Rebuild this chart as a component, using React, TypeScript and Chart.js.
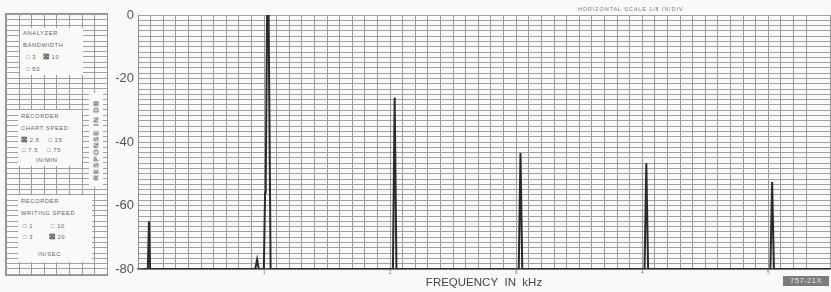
import React, { useEffect, useRef } from "react";
import { Chart, registerables } from "chart.js";

Chart.register(...registerables);

// Recorded spectrum trace (frequency in kHz, response in dB)
const freqKHz = [
  0.04, 0.078, 0.087, 0.096,
  0.93, 0.945, 0.958,
  0.998, 1.008, 1.013, 1.024, 1.036, 1.052,
  2.022, 2.036, 2.05,
  3.02, 3.034, 3.048,
  4.018, 4.032, 4.046,
  5.016, 5.03, 5.044,
  5.49,
];
const responseDb = [
  -80, -80, -65, -80,
  -80, -77, -80,
  -80, -56, -54, 0, 0, -80,
  -80, -26, -80,
  -80, -43.5, -80,
  -80, -46.7, -80,
  -80, -52.6, -80,
  -80,
];

const xMin = 0;
const xMax = 5.489;
const xGridStep = 0.1;
const xTickLabels = [1, 2, 3, 4, 5];
const yMin = -80;
const yMax = 0;
const yLabelStep = 20;
const paperRows = 48;

const panelText = {
  bandwidth: ["ANALYZER", "BANDWIDTH"],
  chart: ["RECORDER", "CHART SPEED"],
  writing: ["RECORDER", "WRITING SPEED"],
};

const smallText: React.CSSProperties = {
  position: "absolute",
  fontFamily: "'Liberation Sans', Arial, sans-serif",
  fontSize: "5.8px",
  letterSpacing: "0.6px",
  color: "#666",
  whiteSpace: "nowrap",
  lineHeight: "6px",
};

const gridBg =
  "repeating-linear-gradient(to bottom, #a0a0a0 0px, #a0a0a0 1px, transparent 1px, transparent 5.3px)," +
  "repeating-linear-gradient(to right, #9a9a9a 0px, #9a9a9a 1px, transparent 1px, transparent 12.6px)";

function T({ x, y, children, style }: { x: number; y: number; children: React.ReactNode; style?: React.CSSProperties }) {
  return <div style={{ ...smallText, left: x, top: y, ...style }}>{children}</div>;
}

export default function App() {
  const ref = useRef<HTMLCanvasElement | null>(null);

  useEffect(() => {
    if (!ref.current) return;
    const chart = new Chart(ref.current, {
      type: "line",
      data: {
        datasets: [
          {
            data: freqKHz.map((f, i) => ({ x: f, y: responseDb[i] })),
            borderColor: "#2b2b2b",
            borderWidth: 2,
            pointRadius: 0,
            tension: 0,
            fill: false,
          },
        ],
      },
      options: {
        animation: false,
        responsive: false,
        events: [],
        layout: { padding: { left: 0, right: 0, top: 15, bottom: 0 } },
        plugins: { legend: { display: false }, tooltip: { enabled: false } },
        scales: {
          x: {
            type: "linear",
            min: xMin,
            max: xMax,
            ticks: {
              stepSize: xGridStep,
              autoSkip: false,
              maxRotation: 0,
              padding: 1,
              font: { size: 5, family: "'Liberation Sans', Arial, sans-serif" },
              color: "#777",
              callback: (v: any) => {
                const n = Number(v);
                const r = Math.round(n);
                return Math.abs(n - r) < 1e-6 && xTickLabels.includes(r) ? String(r) : "";
              },
            },
            grid: { color: "#9a9a9a", lineWidth: 1, drawTicks: false },
            border: { color: "#555", width: 1.5 },
            title: {
              display: true,
              text: "FREQUENCY  IN  kHz",
              color: "#444",
              font: { size: 11.5, family: "'Liberation Sans', Arial, sans-serif" },
              padding: { top: 0, bottom: 2 },
            },
            afterFit: (s: any) => {
              s.height = 23;
            },
          },
          y: {
            type: "linear",
            position: "left",
            min: yMin,
            max: yMax,
            ticks: {
              stepSize: yLabelStep,
              padding: 4,
              color: "#555",
              font: { size: 13, family: "'Liberation Sans', Arial, sans-serif" },
            },
            grid: { display: false, drawTicks: false },
            border: { color: "#8a8a8a", width: 1 },
            afterFit: (s: any) => {
              s.width = 138;
            },
          },
          yg: {
            type: "linear",
            position: "right",
            min: 0,
            max: paperRows,
            ticks: { display: false, stepSize: 1 },
            grid: { color: "#a0a0a0", lineWidth: 1, drawTicks: false },
            border: { display: false },
            afterFit: (s: any) => {
              s.width = 0;
            },
          },
        },
      },
    });
    return () => chart.destroy();
  }, []);

  return (
    <div style={{ position: "absolute", left: 0, top: 0, width: 831, height: 292, background: "#f9f9f7", overflow: "hidden" }}>
      <canvas ref={ref} width={831} height={292} style={{ position: "absolute", left: 0, top: 0, width: 831, height: 292 }} />

      {/* Left instrument panel */}
      <div
        style={{
          position: "absolute",
          left: 5,
          top: 13,
          width: 103,
          height: 263,
          border: "1px solid #929292",
          backgroundImage: gridBg,
          boxSizing: "border-box",
        }}
      />
      <div style={{ position: "absolute", left: 20, top: 28, width: 63, height: 47, background: "#f9f9f7" }} />
      <T x={23} y={30}>{panelText.bandwidth[0]}</T>
      <T x={23} y={42}>{panelText.bandwidth[1]}</T>
      <T x={26} y={54}>□ 3&nbsp;&nbsp;&nbsp;<b style={{ color: "#333", fontSize: "7px" }}>☒</b> 10</T>
      <T x={26} y={66}>□ 50</T>

      <div style={{ position: "absolute", left: 18, top: 110, width: 64, height: 56, background: "#f9f9f7" }} />
      <T x={21} y={113}>{panelText.chart[0]}</T>
      <T x={21} y={125}>{panelText.chart[1]}</T>
      <T x={21} y={137}><b style={{ color: "#333", fontSize: "7px" }}>☒</b> 2.5&nbsp;&nbsp;&nbsp;&nbsp;□ 25</T>
      <T x={22} y={147}>□ 7.5&nbsp;&nbsp;&nbsp;&nbsp;□ 75</T>
      <T x={36} y={157}>IN/MIN</T>

      <div style={{ position: "absolute", left: 18, top: 195, width: 74, height: 67, background: "#f9f9f7" }} />
      <T x={21} y={198}>{panelText.writing[0]}</T>
      <T x={21} y={210}>{panelText.writing[1]}</T>
      <T x={23} y={223}>□ 1&nbsp;&nbsp;&nbsp;&nbsp;&nbsp;&nbsp;&nbsp;&nbsp;□ 10</T>
      <T x={23} y={234}>□ 3&nbsp;&nbsp;&nbsp;&nbsp;&nbsp;&nbsp;&nbsp;<b style={{ color: "#333", fontSize: "7px" }}>☒</b> 20</T>
      <T x={38} y={251}>IN/SEC</T>

      <div style={{ position: "absolute", left: 89, top: 93, width: 14, height: 94, background: "#f9f9f7" }} />
      <div
        style={{
          position: "absolute",
          left: 96,
          top: 140,
          transform: "translate(-50%, -50%) rotate(-90deg)",
          fontFamily: "'Liberation Sans', Arial, sans-serif",
          fontSize: "7.5px",
          fontWeight: "bold",
          letterSpacing: "1.2px",
          color: "#666",
          whiteSpace: "nowrap",
        }}
      >
        RESPONSE IN DB
      </div>

      {/* Top note */}
      <div style={{ ...smallText, left: 578, top: 6, fontSize: "5.5px", letterSpacing: "0.9px", color: "#7a7a7a" }}>
        HORIZONTAL SCALE 1/8 IN/DIV
      </div>

      {/* Stamp */}
      <div
        style={{
          position: "absolute",
          left: 783,
          top: 276,
          width: 46,
          height: 10,
          background: "#7c7c7c",
          color: "#e4e4e4",
          fontFamily: "'Liberation Sans', Arial, sans-serif",
          fontSize: "7.5px",
          lineHeight: "10px",
          textAlign: "center",
          letterSpacing: "0.5px",
        }}
      >
        757-21X
      </div>
    </div>
  );
}
